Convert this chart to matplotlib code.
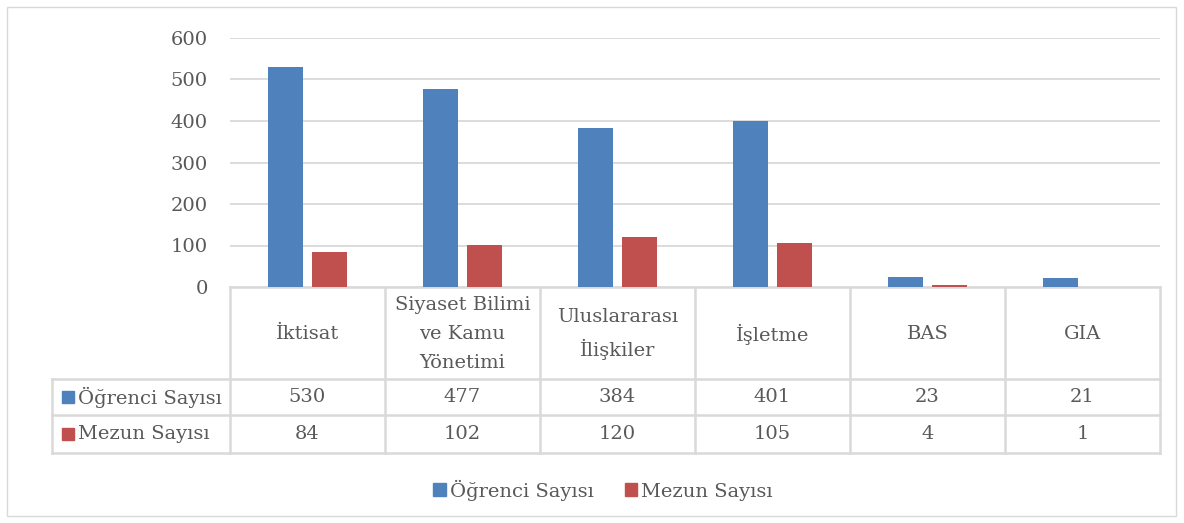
import numpy as np
import matplotlib.pyplot as plt
from matplotlib.patches import Rectangle, Patch

categories = ['İktisat', 'Siyaset Bilimi\nve Kamu\nYönetimi', 'Uluslararası\nİlişkiler',
              'İşletme', 'BAS', 'GIA']
series = ['Öğrenci Sayısı', 'Mezun Sayısı']
ogrenci = [530, 477, 384, 401, 23, 21]
mezun = [84, 102, 120, 105, 4, 1]
yticks = [0, 100, 200, 300, 400, 500, 600]

blue = '#4f81bd'
red = '#c0504d'
grid = '#d9d9d9'
txt = '#595959'
plt.rcParams['font.family'] = ['DejaVu Serif']
fs = 14

W, H = 1184, 523
fig = plt.figure(figsize=(W / 100, H / 100), dpi=100)

# pixel helpers
def fx(px): return px / W
def fy(py): return 1 - py / H

x0, x1 = 230, 1160
ytop, y0 = 38, 287
ax = fig.add_axes([fx(x0), fy(y0), fx(x1) - fx(x0), fy(ytop) - fy(y0)])
n = len(categories)
pos = np.arange(n) + 0.5
w = 0.226
ax.bar(pos - 0.142, ogrenci, w, color=blue, zorder=3)
ax.bar(pos + 0.142, mezun, w, color=red, zorder=3)
ax.set_xlim(0, n)
ax.set_ylim(0, 600)
ax.set_yticks(yticks)
ax.set_yticklabels([str(t) for t in yticks], fontsize=fs, color=txt)
ax.tick_params(axis='y', length=0, pad=16)
ax.set_xticks([])
ax.grid(axis='y', color=grid, lw=1.3, zorder=0)
for s in ax.spines.values():
    s.set_visible(False)

# overlay in pixel coords for table / frame
ov = fig.add_axes([0, 0, 1, 1], zorder=-1)
ov.set_xlim(0, W)
ov.set_ylim(H, 0)
ov.axis('off')
ov.add_patch(Rectangle((7, 7), 1169, 509, fill=False, ec=grid, lw=1))

lx = 52
r0, r1, r2, r3 = 287, 379, 415, 453
lc = grid
lw = 1.8
bounds = np.linspace(x0, x1, n + 1)
ov.plot([x0, x1], [r0, r0], color=lc, lw=lw)
for y in (r1, r2, r3):
    ov.plot([lx, x1], [y, y], color=lc, lw=lw)
for b in bounds:
    ov.plot([b, b], [r0, r3], color=lc, lw=lw)
ov.plot([lx, lx], [r1, r3], color=lc, lw=lw)

cx = (bounds[:-1] + bounds[1:]) / 2
for c, lab in zip(cx, categories):
    ov.text(c, (r0 + r1) / 2 + 1, lab, ha='center', va='center', fontsize=fs,
            color=txt, linespacing=1.75)
for row, (name, vals, col) in enumerate(zip(series, [ogrenci, mezun], [blue, red])):
    yc = [(r1 + r2) / 2, (r2 + r3) / 2][row]
    ov.add_patch(Rectangle((62, yc - 6), 12, 12, color=col))
    ov.text(78, yc, name, ha='left', va='center', fontsize=fs, color=txt)
    for c, v in zip(cx, vals):
        ov.text(c, yc, str(v), ha='center', va='center', fontsize=fs, color=txt)

handles = [Patch(color=blue, label=series[0]), Patch(color=red, label=series[1])]
fig.legend(handles=handles, loc='center', bbox_to_anchor=(fx(603), fy(490)), ncol=2,
           frameon=False, fontsize=fs, labelcolor=txt, handlelength=0.65,
           handleheight=0.65, handletextpad=0.2, columnspacing=1.6)

fig.savefig('out.png', dpi=100)
